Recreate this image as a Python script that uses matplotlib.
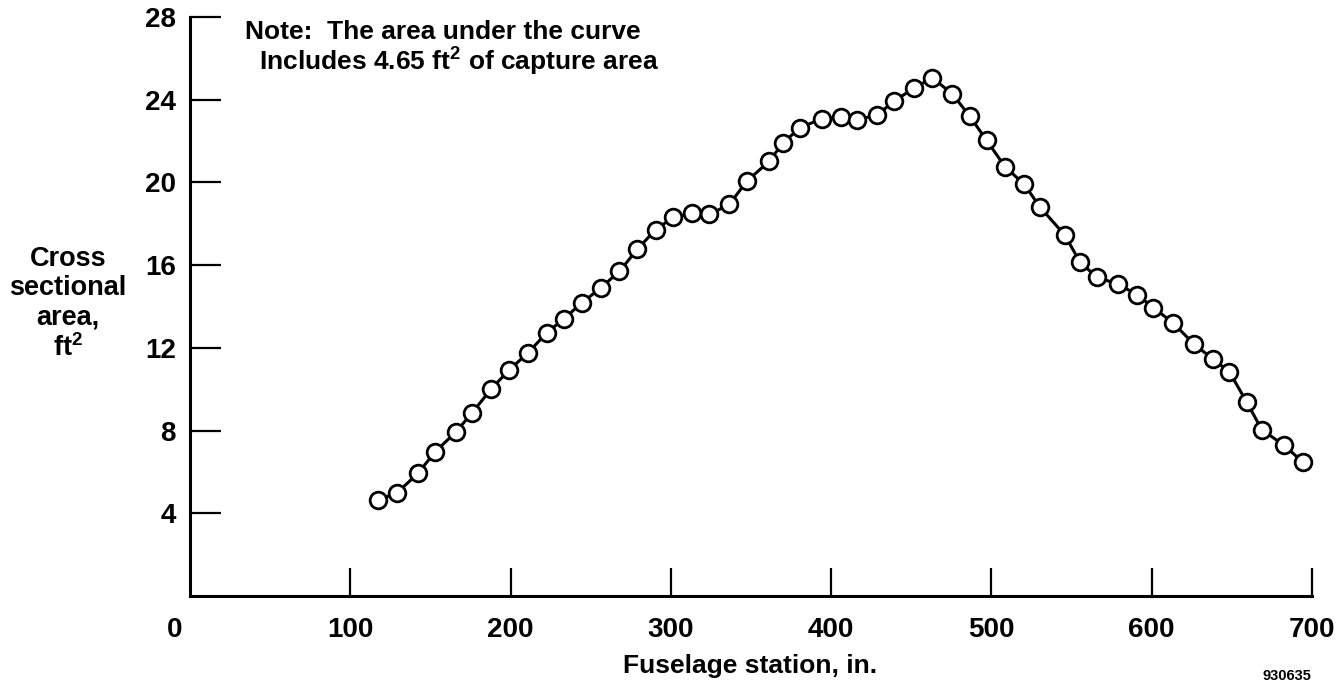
import numpy as np
import matplotlib.pyplot as plt

plt.rcParams['font.family'] = ['Liberation Sans', 'DejaVu Sans']
plt.rcParams['font.weight'] = 'bold'
plt.rcParams['mathtext.fontset'] = 'custom'
plt.rcParams['mathtext.rm'] = 'Liberation Sans:bold'
plt.rcParams['mathtext.bf'] = 'Liberation Sans:bold'
plt.rcParams['mathtext.default'] = 'bf'

# fuselage station (in.) and cross sectional area (ft^2)
station = [117.5, 129.3, 142.2, 152.9, 166.0, 176.1, 188.1, 199.0, 211.0, 222.5,
           233.3, 244.7, 256.4, 267.9, 279.0, 290.5, 301.5, 313.0, 324.0, 336.5,
           347.3, 361.4, 370.1, 380.5, 394.1, 406.1, 415.9, 428.4, 439.2, 451.7,
           463.1, 475.6, 486.6, 497.0, 508.4, 520.5, 530.3, 545.9, 555.2, 565.6,
           579.1, 591.0, 601.0, 613.4, 626.5, 638.4, 648.4, 659.2, 668.6, 682.5,
           694.1]
area = [4.64, 5.00, 5.93, 6.97, 7.94, 8.87, 10.03, 10.92, 11.77, 12.72,
        13.41, 14.19, 14.91, 15.70, 16.76, 17.72, 18.31, 18.50, 18.45, 18.94,
        20.05, 21.03, 21.92, 22.64, 23.08, 23.16, 23.04, 23.24, 23.93, 24.56,
        25.06, 24.28, 23.19, 22.03, 20.77, 19.90, 18.81, 17.44, 16.15, 15.43,
        15.07, 14.57, 13.95, 13.20, 12.17, 11.45, 10.84, 9.39, 8.05, 7.29,
        6.49]
xticks = [100, 200, 300, 400, 500, 600, 700]
yticks = [4, 8, 12, 16, 20, 24, 28]

W, H = 1343, 691
fig = plt.figure(figsize=(W / 100, H / 100), dpi=100)
ax = fig.add_axes([190 / W, 1 - 596 / H, (1312 - 190) / W, (596 - 17) / H])

ax.plot(station, area, '-o', color='k', lw=2.2, markersize=12,
        markerfacecolor='white', markeredgecolor='k', markeredgewidth=2.0,
        clip_on=False, zorder=3)

ax.set_xlim(0, 700)
ax.set_ylim(0, 28)
ax.spines['top'].set_visible(False)
ax.spines['right'].set_visible(False)
ax.spines['left'].set_linewidth(2.2)
ax.spines['bottom'].set_linewidth(2.2)

ax.set_xticks(xticks)
ax.set_yticks(yticks)
ax.set_xticklabels([str(v) for v in xticks])
ax.set_yticklabels([str(v) for v in yticks])
ax.tick_params(axis='x', direction='in', length=20, width=1.6, pad=15, labelsize=20)
ax.tick_params(axis='y', direction='in', length=22, width=1.6, pad=10, labelsize=20)

fig.text(175 / W, 1 - 630 / H, '0', ha='center', va='center', fontsize=20, fontweight='bold')
fig.text(750 / W, 1 - 666 / H, 'Fuselage station, in.', ha='center', va='center',
         fontsize=19, fontweight='bold')
fig.text(68 / W, 1 - 304 / H, 'Cross\nsectional\narea,\nft$^2$', ha='center', va='center',
         fontsize=19.5, fontweight='bold', linespacing=1.15)
fig.text(245 / W, 1 - 32 / H, 'Note:  The area under the curve', ha='left', va='center',
         fontsize=19, fontweight='bold')
fig.text(259 / W, 1 - 62 / H, 'Includes 4.65 ft$^2$ of capture area', ha='left', va='center',
         fontsize=19, fontweight='bold')
fig.text(1287 / W, 1 - 676 / H, '930635', ha='center', va='center', fontsize=10.5)

fig.savefig('out.png', dpi=100)
